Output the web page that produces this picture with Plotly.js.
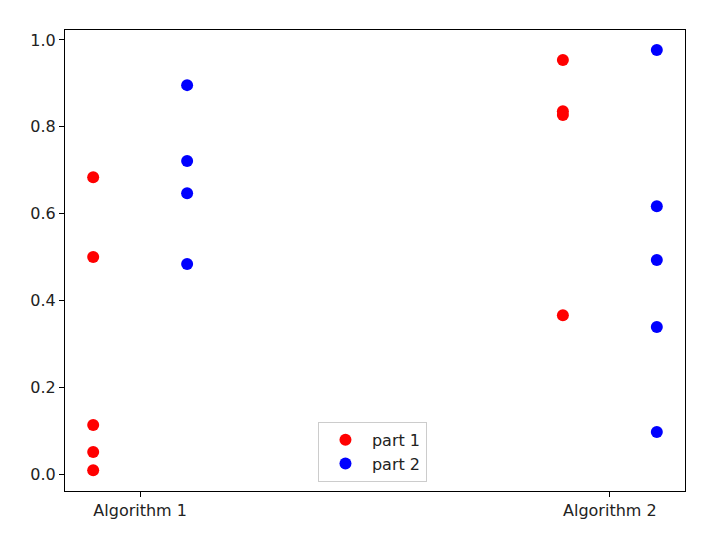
<!DOCTYPE html>
<html>
<head>
<meta charset="utf-8">
<script src="https://cdn.plot.ly/plotly-3.0.1.min.js"></script>
<style>html,body{margin:0;padding:0;background:#fff;}#chart{width:707px;height:533px;}</style>
</head>
<body>
<div id="chart"></div>
<script>
const categories = ["Algorithm 1", "Algorithm 2"];
const categoryPos = [0, 1];
const offset = 0.1;
const part1Values = [
  [0.684, 0.500, 0.113, 0.051, 0.009],
  [0.954, 0.836, 0.827, 0.366]
];
const part2Values = [
  [0.896, 0.721, 0.647, 0.484],
  [0.977, 0.617, 0.493, 0.339, 0.097]
];
const seriesNames = ["part 1", "part 2"];
const seriesColors = ["red", "blue"];

function buildTrace(values, shift, name, color) {
  const x = [], y = [];
  values.forEach((vals, i) => {
    vals.forEach(v => { x.push(categoryPos[i] + shift); y.push(v); });
  });
  return {
    type: "scatter", mode: "markers", x: x, y: y, name: name,
    marker: {color: color, size: 12, line: {width: 0}}
  };
}

const data = [
  buildTrace(part1Values, -offset, seriesNames[0], seriesColors[0]),
  buildTrace(part2Values, offset, seriesNames[1], seriesColors[1])
];

const layout = {
  width: 707, height: 533,
  margin: {l: 65, r: 22, t: 30, b: 42},
  paper_bgcolor: "#fff", plot_bgcolor: "#fff",
  font: {family: "DejaVu Sans, sans-serif", size: 16, color: "#222"},
  showlegend: true,
  xaxis: {
    range: [-0.16, 1.16], tickvals: categoryPos, ticktext: categories,
    showgrid: false, zeroline: false, showline: true, mirror: true,
    linecolor: "#000", linewidth: 1, ticks: "outside", ticklen: 5, tickcolor: "#000",
    tickfont: {size: 16}
  },
  yaxis: {
    range: [-0.039, 1.023], dtick: 0.2, tick0: 0, tickformat: ".1f",
    showgrid: false, zeroline: false, showline: true, mirror: true,
    linecolor: "#000", linewidth: 1, ticks: "outside", ticklen: 5, tickcolor: "#000",
    tickfont: {size: 16}
  },
  legend: {
    x: 0.408, y: 0.02, xanchor: "left", yanchor: "bottom",
    bgcolor: "rgba(255,255,255,0.8)", bordercolor: "#ccc", borderwidth: 1,
    itemwidth: 43,
    font: {size: 16, color: "#222"}
  }
};

Plotly.newPlot("chart", data, layout, {displayModeBar: false, staticPlot: true});
</script>
</body>
</html>
